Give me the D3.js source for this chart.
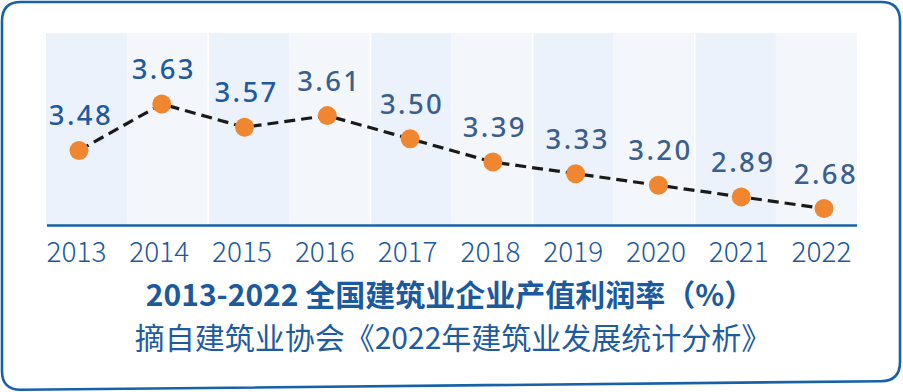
<!DOCTYPE html>
<html><head><meta charset="utf-8">
<script src="https://cdn.jsdelivr.net/npm/d3@7/dist/d3.min.js"></script>
<style>html,body{margin:0;padding:0;background:#fff;}svg{display:block;}</style>
</head><body>
<svg id="chart" width="903" height="392"></svg>
<script>
// ---- data ----
const years = ["2013","2014","2015","2016","2017","2018","2019","2020","2021","2022"];
const profitRate = [3.48, 3.63, 3.57, 3.61, 3.50, 3.39, 3.33, 3.20, 2.89, 2.68];
const valueLabels = ["3.48","3.63","3.57","3.61","3.50","3.39","3.33","3.20","2.89","2.68"];
const titleText = "2013-2022 全国建筑业企业产值利润率（%）";
const sourceText = "摘自建筑业协会《2022年建筑业发展统计分析》";

const svg = d3.select("#chart");
const blue = "#1761a8";
const cjk = "'Noto Sans CJK SC','Noto Sans',sans-serif";

// frame (slightly skewed bottom like the photo)
(function(){
  const p = d3.path();
  const L=2, T=2, R=900, BL=390, BR=381, r=19;
  p.moveTo(L+r, T);
  p.lineTo(R-r, T);
  p.quadraticCurveTo(R, T, R, T+r);
  p.lineTo(R, BR-r);
  p.quadraticCurveTo(R, BR, R-r, BR+0.2);
  p.lineTo(L+r, BL-0.2);
  p.quadraticCurveTo(L, BL, L, BL-r);
  p.lineTo(L, T+r);
  p.quadraticCurveTo(L, T, L+r, T);
  p.closePath();
  svg.append("path").attr("d", p.toString()).attr("fill","#fff")
     .attr("stroke", blue).attr("stroke-width", 2.6);
})();

// scales
const band = d3.scaleBand().domain(years).range([46, 857]).padding(0);
const x = d3.scalePoint().domain(years).range([79, 824]);
const ranked = profitRate.slice().sort(d3.ascending);
const y = d3.scalePoint().domain(ranked).range([208.5, 104]);

const plotTop = 33, plotBottom = 225;

// background bands
svg.append("g").selectAll("rect").data(years).join("rect")
  .attr("x", d => band(d)).attr("y", plotTop)
  .attr("width", band.bandwidth()).attr("height", plotBottom - plotTop)
  .attr("fill", (d,i) => i % 2 === 0 ? "#ebf2fb" : "#f3f7fc");
svg.append("g").selectAll("line").data(years.filter((d,i)=> i>0 && i%2===0)).join("line")
  .attr("x1", d => band(d)).attr("x2", d => band(d))
  .attr("y1", plotTop).attr("y2", plotBottom)
  .attr("stroke", "#fff").attr("stroke-width", 1.5);

// x axis
const xAxis = d3.axisBottom(x).tickSize(0).tickPadding(0);
const axG = svg.append("g").attr("transform", `translate(0,${plotBottom})`).call(xAxis);
axG.select(".domain").remove();
axG.append("line").attr("x1", 47).attr("x2", 857).attr("y1", 0.5).attr("y2", 0.5)
  .attr("stroke", blue).attr("stroke-width", 2.6);
axG.selectAll(".tick text")
  .attr("dy", null).attr("y", 37).attr("dx", -3)
  .attr("fill", "#1b5a9e").attr("font-size", 28)
  .attr("font-family", cjk).attr("font-weight", 300);

// line
const line = d3.line().x((d,i) => x(years[i])).y(d => y(d));
svg.append("path").datum(profitRate).attr("d", line)
  .attr("fill","none").attr("stroke","#1a1a1a").attr("stroke-width",3.2)
  .attr("stroke-dasharray","11,6");

// points
svg.append("g").selectAll("circle").data(profitRate).join("circle")
  .attr("cx", (d,i) => x(years[i])).attr("cy", d => y(d)).attr("r", 9.5)
  .attr("fill", "#f08730");

// value labels
svg.append("g").selectAll("text").data(profitRate).join("text")
  .attr("x", (d,i) => x(years[i]) + 2).attr("y", d => y(d) - 25)
  .attr("text-anchor","middle")
  .attr("font-family", "'Noto Sans',sans-serif").attr("font-size", 27.5)
  .attr("font-weight", 500).attr("letter-spacing", 2.4)
  .attr("fill", (d,i) => i < 3 ? "#1d5a9f" : "#3b5f8c")
  .text((d,i) => valueLabels[i]);

// title & source
svg.append("text").attr("x", 450).attr("y", 306).attr("text-anchor","middle")
  .attr("font-family", cjk).attr("font-weight", 700).attr("font-size", 30)
  .attr("fill", "#1b5a9e").text(titleText);
svg.append("text").attr("x", 453).attr("y", 349).attr("text-anchor","middle")
  .attr("font-family", cjk).attr("font-weight", 400).attr("font-size", 30)
  .attr("fill", "#1f5c9f").text(sourceText);
</script>
</body></html>
